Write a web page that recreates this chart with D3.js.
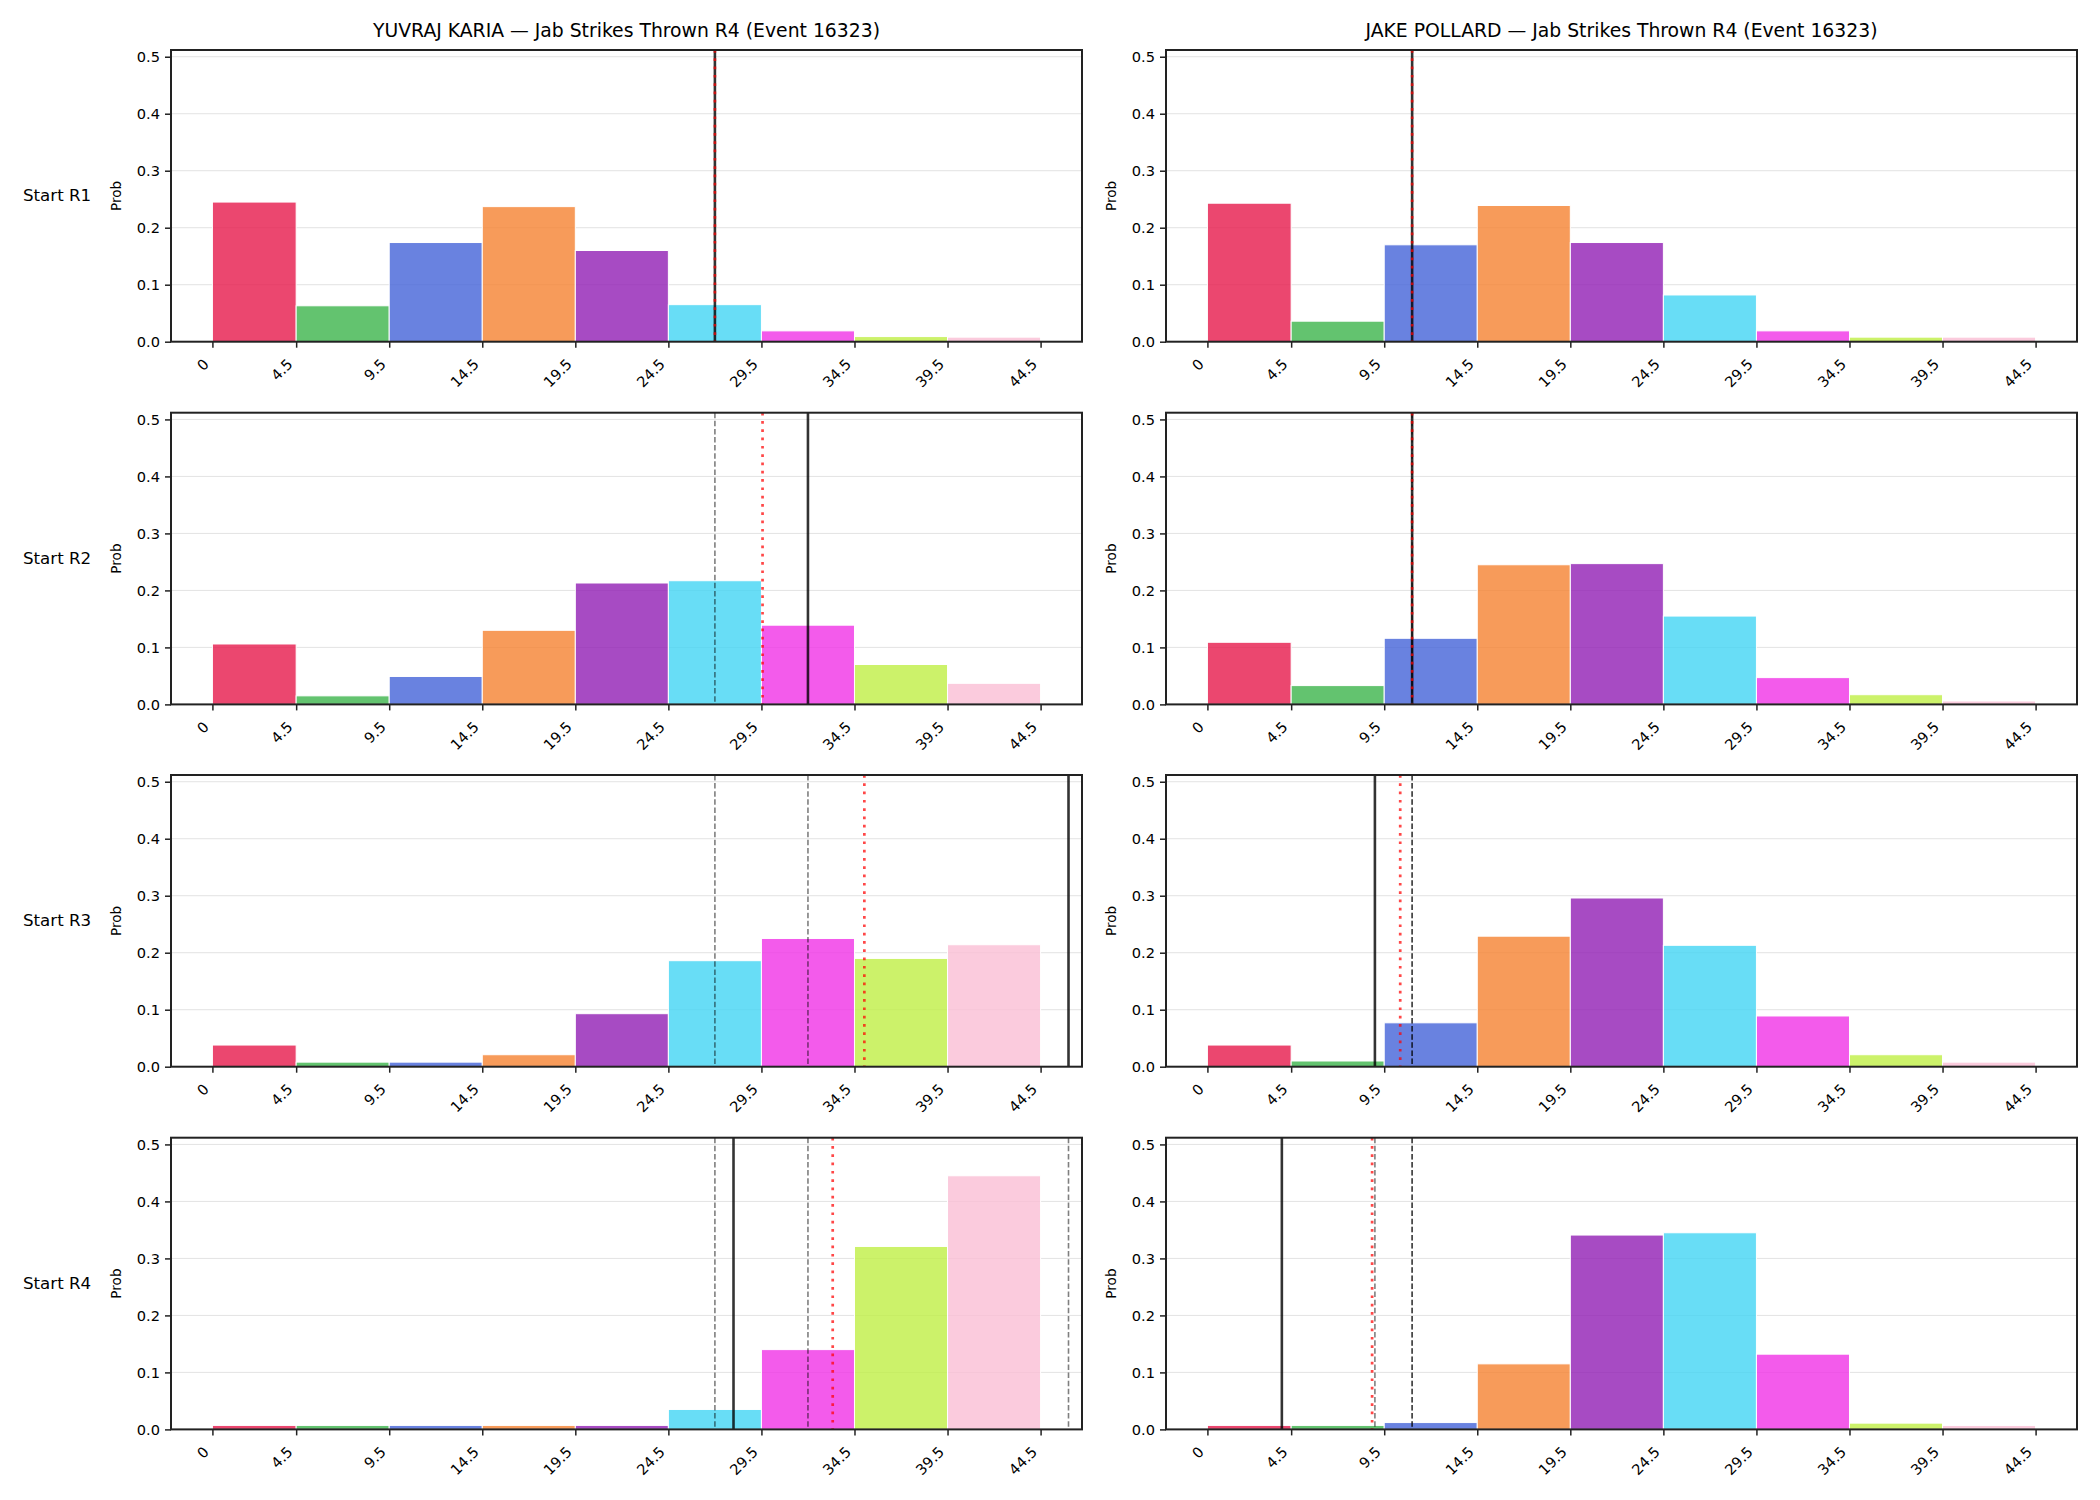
<!DOCTYPE html>
<html>
<head>
<meta charset="utf-8">
<script src="https://cdn.jsdelivr.net/npm/d3@7"></script>
<style>
  html, body { margin: 0; padding: 0; background: #ffffff; }
  svg { display: block; font-family: "DejaVu Sans", sans-serif; }
</style>
</head>
<body>
<div id="chart"></div>
<script>
// ---------------- DATA ----------------
const binEdges = [0, 4.5, 9.5, 14.5, 19.5, 24.5, 29.5, 34.5, 39.5, 44.5];
const tickLabels = ["0", "4.5", "9.5", "14.5", "19.5", "24.5", "29.5", "34.5", "39.5", "44.5"];
const yTicks = [0.0, 0.1, 0.2, 0.3, 0.4, 0.5];
const binColors = ["#e6194b", "#3cb44b", "#4363d8", "#f58231", "#911eb4", "#42d4f4", "#f032e6", "#bfef45", "#fabed4"];
const rowLabels = ["Start R1", "Start R2", "Start R3", "Start R4"];
const fighters = ["YUVRAJ KARIA", "JAKE POLLARD"];
const titleSuffix = " \u2014 Jab Strikes Thrown R4 (Event 16323)";

// Probabilities per bin (9 bins), one array per round start
const kariaR1 = [0.245, 0.063, 0.174, 0.237, 0.160, 0.065, 0.019, 0.009, 0.008];
const kariaR2 = [0.106, 0.015, 0.049, 0.130, 0.213, 0.217, 0.139, 0.070, 0.037];
const kariaR3 = [0.038, 0.008, 0.008, 0.021, 0.093, 0.186, 0.225, 0.190, 0.214];
const kariaR4 = [0.007, 0.007, 0.007, 0.007, 0.007, 0.035, 0.140, 0.321, 0.445];

const pollardR1 = [0.243, 0.036, 0.170, 0.239, 0.174, 0.082, 0.019, 0.008, 0.008];
const pollardR2 = [0.109, 0.033, 0.116, 0.245, 0.247, 0.155, 0.047, 0.017, 0.006];
const pollardR3 = [0.038, 0.010, 0.077, 0.229, 0.296, 0.213, 0.089, 0.021, 0.008];
const pollardR4 = [0.007, 0.007, 0.012, 0.115, 0.341, 0.345, 0.132, 0.011, 0.007];

// Solid black marker (per round start) and red dotted marker (per round start)
const kariaSolid = [27, 32, 46, 28];
const kariaDotted = [27, 29.56, 35.03, 33.33];
const pollardSolid = [11, 11, 9, 4];
const pollardDotted = [11, 11, 10.36, 8.85];

const panels = [
  { probs: [kariaR1, kariaR2, kariaR3, kariaR4], solid: kariaSolid, dotted: kariaDotted },
  { probs: [pollardR1, pollardR2, pollardR3, pollardR4], solid: pollardSolid, dotted: pollardDotted }
];

// ---------------- LAYOUT ----------------
const W = 2100, H = 1500;
const colLeft = [171, 1166];
const axW = 911;
const rowTop = [50, 412.7, 775, 1137.7];
const axH = 291.7;

const x = d3.scaleLinear().domain([-2.225, 46.725]).range([0, axW]);
const y = d3.scaleLinear().domain([0, 0.5118]).range([axH, 0]);

const svg = d3.select("#chart").append("svg")
  .attr("width", W).attr("height", H)
  .attr("viewBox", `0 0 ${W} ${H}`);

svg.append("rect").attr("width", W).attr("height", H).attr("fill", "#fff");

// Column titles
fighters.forEach((name, c) => {
  svg.append("text")
    .attr("x", colLeft[c] + axW / 2)
    .attr("y", 37)
    .attr("text-anchor", "middle")
    .attr("font-size", 18.8)
    .attr("fill", "#000")
    .text(name + titleSuffix);
});

// Row labels
rowLabels.forEach((lab, r) => {
  svg.append("text")
    .attr("x", 23)
    .attr("y", rowTop[r] + axH / 2 + 5.5)
    .attr("font-size", 16.67)
    .attr("fill", "#000")
    .text(lab);
});

panels.forEach((p, c) => {
  p.probs.forEach((probs, r) => {
    const g = svg.append("g").attr("transform", `translate(${colLeft[c]},${rowTop[r]})`);

    // grid
    g.append("g").selectAll("line").data(yTicks.filter(t => t > 0)).join("line")
      .attr("x1", 0).attr("x2", axW)
      .attr("y1", d => y(d)).attr("y2", d => y(d))
      .attr("stroke", "#e3e3e3").attr("stroke-width", 1);

    // bars
    const bins = probs.map((v, i) => ({ x0: binEdges[i], x1: binEdges[i + 1], v, color: binColors[i] }));
    g.append("g").selectAll("rect").data(bins).join("rect")
      .attr("x", d => x(d.x0))
      .attr("width", d => x(d.x1) - x(d.x0))
      .attr("y", d => y(d.v))
      .attr("height", d => y(0) - y(d.v))
      .attr("fill", d => d.color)
      .attr("fill-opacity", 0.8)
      .attr("stroke", "#ffffff")
      .attr("stroke-width", 1);

    // dashed markers: previous rounds' solid positions
    const prev = p.solid.slice(0, r);
    g.append("g").selectAll("line").data(prev).join("line")
      .attr("x1", d => x(d)).attr("x2", d => x(d))
      .attr("y1", 0).attr("y2", axH)
      .attr("stroke", "#000").attr("stroke-opacity", 0.5)
      .attr("stroke-width", 1.6)
      .attr("stroke-dasharray", "5.5,2.6");

    // solid marker
    g.append("line")
      .attr("x1", x(p.solid[r])).attr("x2", x(p.solid[r]))
      .attr("y1", 0).attr("y2", axH)
      .attr("stroke", "#000").attr("stroke-opacity", 0.8)
      .attr("stroke-width", 2.6);

    // red dotted marker
    g.append("line")
      .attr("x1", x(p.dotted[r])).attr("x2", x(p.dotted[r]))
      .attr("y1", 0).attr("y2", axH)
      .attr("stroke", "#ff0000").attr("stroke-opacity", 0.72)
      .attr("stroke-width", 2.7)
      .attr("stroke-dasharray", "2.7,5.6");

    // y axis
    const ya = g.append("g").call(
      d3.axisLeft(y).tickValues(yTicks).tickFormat(d3.format(".1f")).tickSize(6).tickPadding(5)
    );
    ya.select(".domain").remove();
    ya.selectAll(".tick line").attr("stroke", "#222").attr("stroke-width", 1.5);
    ya.selectAll(".tick text").attr("font-size", 14.6).attr("fill", "#000")
      .attr("font-family", "DejaVu Sans, sans-serif");

    // x axis
    const xa = g.append("g").attr("transform", `translate(0,${axH})`).call(
      d3.axisBottom(x).tickValues(binEdges).tickFormat((d, i) => tickLabels[i]).tickSize(6)
    );
    xa.select(".domain").remove();
    xa.selectAll(".tick line").attr("stroke", "#222").attr("stroke-width", 1.5);
    xa.selectAll(".tick text")
      .attr("font-size", 14.6).attr("fill", "#000")
      .attr("font-family", "DejaVu Sans, sans-serif")
      .attr("x", 0).attr("y", 0).attr("dy", null)
      .attr("text-anchor", "end")
      .attr("transform", "translate(-3,23.5) rotate(-45)");

    // spine
    g.append("rect")
      .attr("x", 0).attr("y", 0).attr("width", axW).attr("height", axH)
      .attr("fill", "none").attr("stroke", "#222").attr("stroke-width", 2);

    // y label
    g.append("text")
      .attr("transform", `translate(-50,${axH / 2}) rotate(-90)`)
      .attr("text-anchor", "middle")
      .attr("font-size", 13.6)
      .attr("fill", "#000")
      .text("Prob");
  });
});
</script>
</body>
</html>
